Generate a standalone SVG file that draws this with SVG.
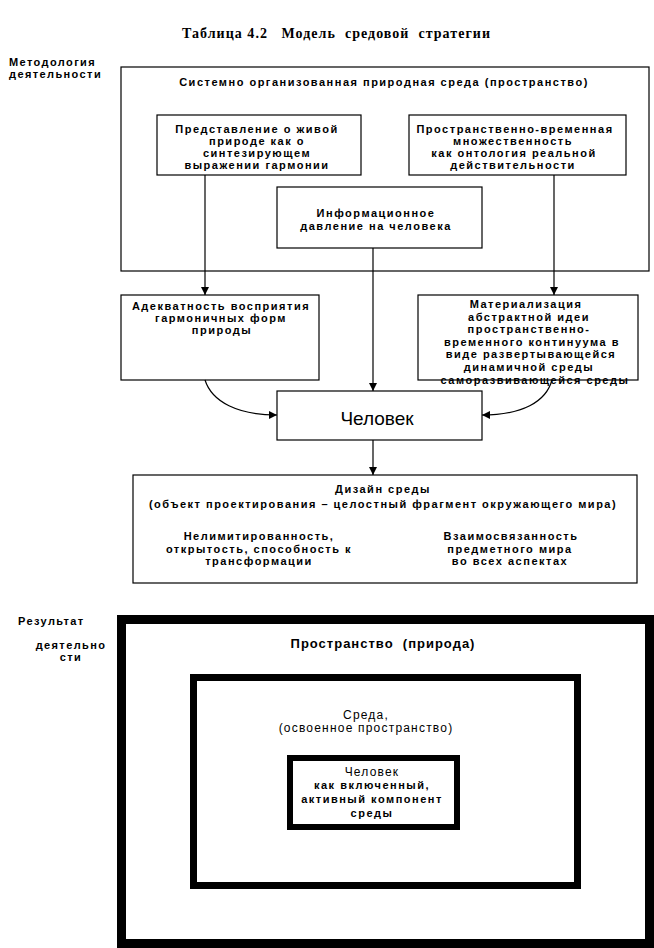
<svg xmlns="http://www.w3.org/2000/svg" width="654" height="948" viewBox="0 0 654 948">
<style>
.bx{fill:none;stroke:#000;stroke-width:1.2}
.t{font-family:"Liberation Sans",Arial,sans-serif;font-weight:bold;font-size:11px;letter-spacing:1.5px;text-anchor:middle;fill:#000}
.l{font-family:"Liberation Sans",Arial,sans-serif;font-weight:bold;font-size:11px;letter-spacing:1.4px;fill:#000}
.r{font-family:"Liberation Sans",Arial,sans-serif;font-size:12px;letter-spacing:1.2px;text-anchor:middle;fill:#000}
.c{fill:none;stroke:#000;stroke-width:1.2}
</style>
<defs>
<marker id="ah" viewBox="0 0 10 10" refX="10" refY="5" markerWidth="8" markerHeight="8" markerUnits="userSpaceOnUse" orient="auto">
<path d="M0,0 L10,5 L0,10 Z" fill="#000"/>
</marker>
</defs>
<rect width="654" height="948" fill="#fff"/>
<text x="336" y="38" font-family="Liberation Serif,Times New Roman,serif" font-weight="bold" font-size="14" text-anchor="middle" textLength="308" lengthAdjust="spacing" xml:space="preserve">Таблица 4.2   Модель  средовой  стратегии</text>
<g id="label-method">
<text class="l" x="9" y="66">Методология</text>
<text class="l" x="9" y="78">деятельности</text>
</g>
<g id="outer-env">
<rect class="bx" x="121" y="67" width="528" height="204"/>
<text class="t" x="384" y="86">Системно организованная природная среда (пространство)</text>
</g>
<g id="box-a">
<rect class="bx" x="157" y="115" width="204" height="60"/>
<text class="t" x="257" y="133">Представление о живой</text>
<text class="t" x="257" y="145">природе как о</text>
<text class="t" x="257" y="157">синтезирующем</text>
<text class="t" x="257" y="169">выражении гармонии</text>
</g>
<g id="box-b">
<rect class="bx" x="409" y="115" width="217" height="60"/>
<text class="t" x="515" y="133">Пространственно-временная</text>
<text class="t" x="513" y="145">множественность</text>
<text class="t" x="514" y="157">как онтология реальной</text>
<text class="t" x="513" y="169">действительности</text>
</g>
<g id="box-c">
<rect class="bx" x="277" y="187" width="205" height="61"/>
<text class="t" x="376" y="217">Информационное</text>
<text class="t" x="376" y="230">давление на человека</text>
</g>
<g id="box-d">
<rect class="bx" x="121" y="295" width="198" height="85"/>
<text class="t" x="221" y="310">Адекватность восприятия</text>
<text class="t" x="221" y="322">гармоничных форм</text>
<text class="t" x="222" y="334">природы</text>
</g>
<g id="box-e">
<rect class="bx" x="418" y="295" width="220" height="85"/>
<text class="t" x="526" y="308">Материализация</text>
<text class="t" x="529" y="320.5">абстрактной идеи</text>
<text class="t" x="529" y="333">пространственно-</text>
<text class="t" x="532" y="345.5">временного континуума в</text>
<text class="t" x="531" y="358">виде развертывающейся</text>
<text class="t" x="529" y="370.5">динамичной среды</text>
<text class="t" x="535" y="384">саморазвивающейся среды</text>
</g>
<g id="box-human">
<rect class="bx" x="277" y="391" width="205" height="49"/>
<text x="377" y="425" font-family="Liberation Sans,Arial,sans-serif" font-size="19" text-anchor="middle">Человек</text>
</g>
<g id="box-design">
<rect class="bx" x="133" y="475" width="504" height="108"/>
<text class="t" x="383" y="493">Дизайн среды</text>
<text class="t" x="383" y="508">(объект проектирования – целостный фрагмент окружающего мира)</text>
<text class="t" x="259" y="540">Нелимитированность,</text>
<text class="t" x="259" y="552.5">открытость, способность к</text>
<text class="t" x="259" y="565">трансформации</text>
<text class="t" x="511" y="540">Взаимосвязанность</text>
<text class="t" x="510" y="552.5">предметного мира</text>
<text class="t" x="510" y="565">во всех аспектах</text>
</g>
<g id="connectors">
<line class="c" x1="205" y1="175" x2="205" y2="295" marker-end="url(#ah)"/>
<line class="c" x1="554" y1="175" x2="554" y2="295" marker-end="url(#ah)"/>
<line class="c" x1="373" y1="248" x2="373" y2="391" marker-end="url(#ah)"/>
<line class="c" x1="373" y1="440" x2="373" y2="475" marker-end="url(#ah)"/>
<path class="c" d="M205,380 C212,402 238,415 277,415" marker-end="url(#ah)"/>
<path class="c" d="M552,380 C546,402 522,415 482,415" marker-end="url(#ah)"/>
</g>
<g id="label-result">
<text class="l" x="18" y="625">Результат</text>
<text class="l" x="71" y="649" text-anchor="middle">деятельно</text>
<text class="l" x="71" y="661" text-anchor="middle">сти</text>
</g>
<g id="space">
<rect x="121.5" y="619.5" width="528" height="324" fill="none" stroke="#000" stroke-width="9"/>
<text x="383" y="648" font-family="Liberation Sans,Arial,sans-serif" font-weight="bold" font-size="13" letter-spacing="1" text-anchor="middle" xml:space="preserve">Пространство  (природа)</text>
</g>
<g id="environment">
<rect x="193.5" y="677.5" width="384" height="208" fill="none" stroke="#000" stroke-width="7"/>
<text class="r" x="366" y="719">Среда,</text>
<text class="r" x="366" y="732">(освоенное пространство)</text>
</g>
<g id="human-inner">
<rect x="290" y="758" width="167" height="69" fill="none" stroke="#000" stroke-width="6"/>
<text class="r" x="372" y="776">Человек</text>
<text class="t" x="372" y="789">как включенный,</text>
<text class="t" x="372" y="803">активный компонент</text>
<text class="t" x="372" y="817">среды</text>
</g>
</svg>
